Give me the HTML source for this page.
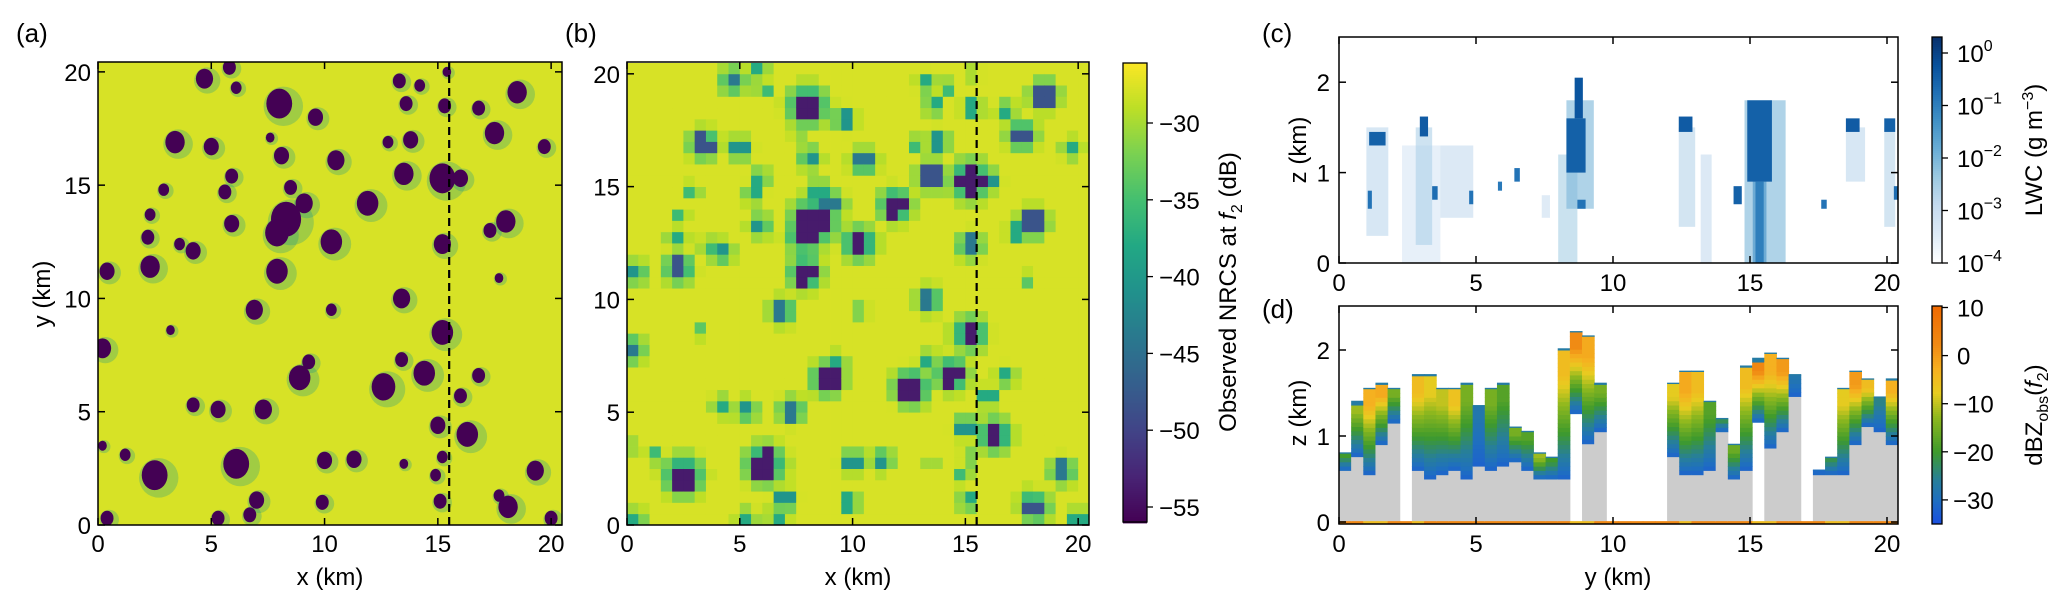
<!DOCTYPE html>
<html><head><meta charset="utf-8"><style>
html,body{margin:0;padding:0;background:#fff;}
svg{display:block;font-family:"Liberation Sans",Arial,sans-serif;}
</style></head><body>
<svg id="fig" width="2067" height="607" viewBox="0 0 2067 607" xmlns="http://www.w3.org/2000/svg">
<g id="pa"></g>
<g id="pb"></g>
<g id="pc"></g>
<g id="pd"></g>
<g id="labels"></g>
</svg>
<script>
// ---------- data: panel (a) cloud-shadow blobs (km) ----------
const blobX=[4.7,5.8,6.1,8.0,9.6,3.4,5.0,7.6,8.1,10.5,13.3,13.6,14.2,15.4,15.3,16.8,17.5,18.5,19.7,12.8,13.8,13.5,15.2,16.0,11.9,8.5,8.3,7.9,9.1,5.9,5.6,5.9,2.9,2.3,2.2,2.3,3.6,4.2,10.3,7.9,0.4,18.0,17.3,15.2,17.7,13.4,6.9,10.3,15.2,0.2,3.2,8.9,9.3,12.6,14.4,13.4,16.8,16.0,4.2,5.3,7.3,15.0,16.3,6.1,2.5,19.3,13.5,15.2,14.9,15.1,18.1,17.7,7.0,9.9,0.4,5.3,6.7,20.0,0.2,1.2,10.0,11.3];
const blobY=[19.7,20.2,19.3,18.6,18.0,16.9,16.7,17.1,16.3,16.1,19.6,18.6,19.4,20.0,18.5,18.4,17.3,19.1,16.7,16.9,17.0,15.5,15.3,15.3,14.2,14.9,13.5,12.9,14.2,15.4,14.7,13.3,14.8,13.7,12.7,11.4,12.4,12.1,12.5,11.2,11.2,13.4,13.0,12.4,10.9,10.0,9.5,9.5,8.5,7.8,8.6,6.5,7.2,6.1,6.7,7.3,6.6,5.7,5.3,5.1,5.1,4.4,4.0,2.7,2.2,2.4,2.7,3.0,2.2,1.05,0.8,1.3,1.1,1.0,0.3,0.3,0.45,0.3,3.5,3.1,2.85,2.9];
const blobR=[0.4,0.3,0.25,0.6,0.35,0.45,0.35,0.2,0.35,0.4,0.3,0.3,0.25,0.2,0.3,0.3,0.45,0.45,0.3,0.25,0.35,0.45,0.6,0.35,0.5,0.3,0.7,0.55,0.4,0.3,0.3,0.35,0.25,0.25,0.3,0.45,0.25,0.35,0.5,0.5,0.35,0.45,0.3,0.4,0.2,0.4,0.4,0.25,0.5,0.4,0.2,0.5,0.3,0.55,0.5,0.3,0.3,0.3,0.3,0.35,0.4,0.35,0.5,0.6,0.6,0.4,0.2,0.25,0.25,0.3,0.45,0.25,0.35,0.3,0.3,0.3,0.3,0.3,0.2,0.25,0.35,0.35];
const sectionX=15.5;
const xyTicks=[0,5,10,15,20];
const nrcsTicks=[-30,-35,-40,-45,-50,-55];
// ---------- data: panel (c) LWC patches ----------
const lightY0=[1.0,2.3,2.8,3.7,8.0,8.3,12.4,13.2,14.8,15.1,18.5,19.9,7.4];
const lightY1=[1.8,3.7,3.4,4.9,8.7,9.3,13.0,13.6,16.3,15.6,19.2,20.3,7.7];
const lightZ0=[0.3,0.0,0.2,0.5,0.0,0.6,0.4,0.0,0.0,0.0,0.9,0.4,0.5];
const lightZ1=[1.5,1.3,1.5,1.3,1.2,1.8,1.5,1.2,1.8,1.0,1.5,1.5,0.75];
const lightLog=[-2.8,-3.3,-2.6,-2.9,-2.5,-2.0,-2.7,-2.9,-2.0,-1.3,-2.8,-2.7,-3.0];
const coreY0=[1.1,1.05,2.95,3.4,4.75,6.4,5.8,8.3,8.6,8.7,12.4,14.4,14.9,15.2,17.6,18.5,19.9,20.25];
const coreY1=[1.7,1.2,3.25,3.6,4.9,6.6,5.95,9.0,8.9,9.0,12.9,14.7,15.8,15.5,17.8,19.0,20.3,20.4];
const coreZ0=[1.3,0.6,1.4,0.7,0.65,0.9,0.8,1.0,1.6,0.6,1.45,0.65,0.9,0.0,0.6,1.45,1.45,0.7];
const coreZ1=[1.45,0.8,1.62,0.85,0.8,1.05,0.9,1.6,2.05,0.7,1.62,0.85,1.8,0.9,0.7,1.6,1.6,0.85];
const coreLog=[-0.5,-0.8,-0.4,-0.7,-0.8,-0.8,-0.9,-0.5,-0.3,-0.8,-0.4,-0.5,-0.5,-1.0,-0.8,-0.4,-0.5,-0.7];
const lwcTickExp=[0,-1,-2,-3,-4];
// ---------- data: panel (d) radar columns ----------
const colGray=[.6,.76,.55,.9,1.15,0,.6,.5,.55,.6,.5,.65,.6,.65,.7,.6,.5,.5,.5,0,.91,1.05,0,0,0,0,0,.76,.55,.55,.6,1.05,.5,.6,0,.86,1.05,1.46,0,.55,.55,.55,.9,1.11,1.05,.9];
const colBase=[.6,.76,.55,.9,1.15,0,.6,.5,.55,.6,.5,.65,.6,.65,.7,.6,.5,.5,.5,1.26,.91,1.05,0,0,0,0,0,.76,.55,.55,.6,1.05,.5,.6,1.16,.86,1.05,1.46,0,.55,.55,.55,.9,1.11,1.05,.9];
const colTop=[.81,1.41,1.56,1.62,1.56,0,1.72,1.72,1.56,1.56,1.62,1.36,1.56,1.62,1.11,1.06,.81,.76,2.02,2.22,2.17,1.62,0,0,0,0,0,1.62,1.76,1.76,1.41,1.21,.91,1.82,1.91,1.97,1.91,1.72,0,.61,.76,1.56,1.76,1.67,1.46,1.67];
const colPeak=[-20,-12,-3,-2,-15,0,-5,-8,-10,-6,-15,-28,-15,-18,-15,-18,-12,-20,-5,2,-2,-15,0,0,0,0,0,-8,-2,-5,-18,-22,-16,-5,3,-3,0,-28,0,-30,-22,-8,0,-5,-25,-3];
const surfDbz=[3,3,-5,-5,3,3,-5,3,3,3,3,3,3,3,3,3,3,3,3,-5,-5,3,3,3,3,3,3,3,-5,3,3,3,3,3,-5,-5,3,3,3,3,-5,-5,3,3,3,3];
const zTicks=[0,1,2];
const dbzTicks=[10,0,-10,-20,-30];

// ---------- helpers ----------
const NS="http://www.w3.org/2000/svg";
function mk(tag,attrs,parent){const e=document.createElementNS(NS,tag);for(const k in attrs)e.setAttribute(k,attrs[k]);parent.appendChild(e);return e;}
function hex(c){return [parseInt(c.slice(1,3),16),parseInt(c.slice(3,5),16),parseInt(c.slice(5,7),16)];}
function interp(stops,t){t=Math.max(0,Math.min(1,t));for(let i=1;i<stops.length;i++){if(t<=stops[i][0]){const a=stops[i-1],b=stops[i];const f=(t-a[0])/(b[0]-a[0]||1);const ca=hex(a[1]),cb=hex(b[1]);return "rgb("+ca.map((v,j)=>Math.round(v+(cb[j]-v)*f)).join(",")+")";}}return stops[stops.length-1][1];}
const VIR=[[0,"#440154"],[.1,"#482475"],[.2,"#414487"],[.3,"#355f8d"],[.4,"#2a788e"],[.5,"#21918c"],[.6,"#22a884"],[.7,"#44bf70"],[.8,"#7ad151"],[.9,"#bddf26"],[1,"#fde725"]];
const BLU=[[0,"#ffffff"],[.125,"#deebf7"],[.25,"#c6dbef"],[.375,"#9ecae1"],[.5,"#6baed6"],[.625,"#4292c6"],[.75,"#2171b5"],[.875,"#08519c"],[1,"#08306b"]];
const DBZ=[[0,"#1a4fe0"],[.11,"#1f6fc0"],[.2,"#277f9a"],[.33,"#3e9a2c"],[.49,"#8fb81e"],[.6,"#e8cc20"],[.71,"#f5b020"],[.82,"#f08a14"],[1,"#f06a00"]];
const virC=v=>interp(VIR,(v+56)/30);
const bluC=l=>interp(BLU,(l+4)/4.3);
const dbzC=v=>interp(DBZ,(v+35)/45.3);
const FS=24;

function ticksBox(g,L,R,T,B,xs,ys,xf,yf,len){
  xs.forEach(v=>{const x=xf(v);
    const t1=mk("line",{x1:x,x2:x,y1:B,y2:B-len,stroke:"#000","stroke-width":1.5},g);
    
    
    mk("line",{x1:x,x2:x,y1:T,y2:T+len,stroke:"#000","stroke-width":1.5},g);});
  ys.forEach(v=>{const y=yf(v);
    const t2=mk("line",{x1:L,x2:L+len,y1:y,y2:y,stroke:"#000","stroke-width":1.5},g);
    
    
    mk("line",{x1:R,x2:R-len,y1:y,y2:y,stroke:"#000","stroke-width":1.5},g);});
  const fr=mk("rect",{x:L,y:T,width:R-L,height:B-T,fill:"none",stroke:"#000","stroke-width":1.5},g);
  
  
}
function txt(g,x,y,s,opt){const t=mk("text",Object.assign({x:x,y:y,"font-size":FS,fill:"#000"},opt||{}),g);t.textContent=s;return t;}

// ---------- panel a ----------
(function(){
  const g=document.getElementById("pa");
  const L=98,R=562,T=62,B=525,s=(R-L)/20.48;
  const xa=v=>L+v*s, ya=v=>B-v*s;
  const cpth=mk("clipPath",{id:"ca"},g);
  mk("rect",{x:L,y:T,width:R-L,height:B-T},cpth);
  const bg=mk("rect",{x:L,y:T,width:R-L,height:B-T,fill:virC(-27.8)},g);
  
  
  const cg=mk("g",{"clip-path":"url(#ca)"},g);
  blobX.forEach((bx,i)=>{
    const h=mk("circle",{cx:xa(bx)+blobR[i]*s*0.3,cy:ya(blobY[i])+blobR[i]*s*0.2,r:blobR[i]*1.45*s,fill:virC(-40),opacity:0.3},cg);
    
    
  });
  blobX.forEach((bx,i)=>{
    const c=mk("ellipse",{cx:xa(bx),cy:ya(blobY[i]),rx:blobR[i]*s*0.95,ry:blobR[i]*s*1.1,fill:virC(-56)},cg);
    
    
  });
  const dl=mk("line",{x1:xa(sectionX),x2:xa(sectionX),y1:T,y2:B,stroke:"#000","stroke-width":2.2,"stroke-dasharray":"8,5"},g);
  
  
  ticksBox(g,L,R,T,B,xyTicks,xyTicks,xa,ya,7);
  xyTicks.forEach(v=>{txt(g,xa(v),552,String(v),{"text-anchor":"middle"});txt(g,91,ya(v)+9,String(v),{"text-anchor":"end"});});
  const xl=txt(g,330,585,"x (km)",{"text-anchor":"middle"});
  
  
  const yl=txt(g,0,0,"y (km)",{"text-anchor":"middle",transform:"translate(50,294) rotate(-90)"});
  
  
})();

// ---------- panel b ----------
(function(){
  const g=document.getElementById("pb");
  const L=627,R=1089,T=62,B=525,s=(R-L)/20.48;
  const xb=v=>L+v*s, yb=v=>B-v*s;
  const cell=0.5, n=41;
  for(let i=0;i<n;i++)for(let j=0;j<n;j++){
    const cx=(i+0.5)*cell, cy=(j+0.5)*cell;let d=0;
    blobX.forEach((bx,k)=>{const dist=Math.hypot(bx-cx,blobY[k]-cy);const r=blobR[k];
      let v=dist<r?1:(dist<2.2*r?0.55*(2.2*r-dist)/(1.2*r):0);v*=Math.min(1,r/0.5);d=Math.max(d,v);});
    const val=-27.8-14*d-12*Math.pow(d,4);
    const w=Math.min(cell,20.48-i*cell), h=Math.min(cell,20.48-j*cell);
    if(w<=0||h<=0)continue;
    const r=mk("rect",{x:xb(i*cell),y:yb(j*cell+h),width:w*s+0.4,height:h*s+0.4,fill:virC(val)},g);
    
    
  }
  const dl=mk("line",{x1:xb(sectionX),x2:xb(sectionX),y1:T,y2:B,stroke:"#000","stroke-width":2.2,"stroke-dasharray":"8,5"},g);
  
  
  ticksBox(g,L,R,T,B,xyTicks,xyTicks,xb,yb,7);
  xyTicks.forEach(v=>{txt(g,xb(v),552,String(v),{"text-anchor":"middle"});txt(g,620,yb(v)+9,String(v),{"text-anchor":"end"});});
  const xl=txt(g,858,585,"x (km)",{"text-anchor":"middle"});
  
  
  const cL=1123,cR=1147,cT=63,cB=522;const bz=v=>123-(v+30)*15.36;
  for(let y=cT;y<cB;y+=2){const v=-30-(y+1-123)/15.36;mk("rect",{x:cL,y:y,width:cR-cL,height:2.4,fill:virC(v)},g);}
  const cb=mk("rect",{x:cL,y:cT,width:cR-cL,height:cB-cT,fill:"none",stroke:"#000","stroke-width":1.3},g);
  
  
  nrcsTicks.forEach(v=>{mk("line",{x1:cR,x2:cR+6,y1:bz(v),y2:bz(v),stroke:"#000","stroke-width":1.3},g);txt(g,1159,bz(v)+9,"\u2212"+Math.abs(v));});
  const t=mk("text",{x:0,y:0,"font-size":FS,"text-anchor":"middle",transform:"translate(1236,292) rotate(-90)"},g);
  
  
  t.innerHTML='Observed NRCS at <tspan font-style="italic">f</tspan><tspan font-size="16" dy="6">2</tspan><tspan dy="-6"> (dB)</tspan>';
})();

// ---------- panel c ----------
(function(){
  const g=document.getElementById("pc");
  const L=1339,R=1898,T=37,B=263;const kx=27.4,kz=90.4;
  const xc=v=>L+v*kx, zc=v=>B-v*kz;
  lightY0.forEach((y0,i)=>{const r=mk("rect",{x:xc(y0),y:zc(lightZ1[i]),width:(lightY1[i]-y0)*kx,height:(lightZ1[i]-lightZ0[i])*kz,fill:bluC(lightLog[i]),opacity:0.6},g);
    
    });
  coreY0.forEach((y0,i)=>{const r=mk("rect",{x:xc(y0),y:zc(coreZ1[i]),width:(coreY1[i]-y0)*kx,height:(coreZ1[i]-coreZ0[i])*kz,fill:bluC(coreLog[i])},g);
    
    });
  ticksBox(g,L,R,T,B,xyTicks,zTicks,xc,zc,7);
  xyTicks.forEach(v=>txt(g,xc(v),291,String(v),{"text-anchor":"middle"}));
  zTicks.forEach(v=>txt(g,1330,zc(v)+9,String(v),{"text-anchor":"end"}));
  const yl=txt(g,0,0,"z (km)",{"text-anchor":"middle",transform:"translate(1306,150) rotate(-90)"});
  
  
  const cL=1932,cR=1942;const cz=l=>263-(l+4)*52.5;
  for(let y=37;y<263;y+=2){const l=(263-y-1)/52.5-4;mk("rect",{x:cL,y:y,width:cR-cL,height:2.4,fill:bluC(l)},g);}
  const cb=mk("rect",{x:cL,y:37,width:cR-cL,height:226,fill:"none",stroke:"#000","stroke-width":1.3},g);
  
  
  lwcTickExp.forEach(e=>{mk("line",{x1:cR,x2:cR+6,y1:cz(e),y2:cz(e),stroke:"#000","stroke-width":1.3},g);
    const t=mk("text",{x:1957,y:cz(e)+9,"font-size":FS},g);
    t.innerHTML='10<tspan font-size="16" dy="-11">'+(e===0?'0':'\u2212'+Math.abs(e))+'</tspan>';});
  const t=mk("text",{x:0,y:0,"font-size":FS,"text-anchor":"middle",transform:"translate(2042,150) rotate(-90)"},g);
  
  
  t.innerHTML='LWC (g m<tspan font-size="16" dy="-9">\u22123</tspan><tspan dy="9">)</tspan>';
})();

// ---------- panel d ----------
(function(){
  const g=document.getElementById("pd");
  const L=1339,R=1898,T=306,B=524;const kx=27.4,kz=86;
  const xd=v=>L+v*kx, zd=v=>522-v*kz;
  const cw=20.4/colTop.length, row=0.05;
  colTop.forEach((top,i)=>{
    const x0=xd(i*cw), w=cw*kx+0.5;
    if(colGray[i]>0){const r=mk("rect",{x:x0,y:zd(colGray[i]),width:w,height:colGray[i]*kz,fill:"#cccccc"},g);
      
      }
    if(top>colBase[i]){
      const base=colBase[i], pk=colPeak[i];
      for(let z=base;z<top-1e-6;z+=row){
        const z1=Math.min(top,z+row);const f=((z+z1)/2-base)/(top-base);
        let v=(top-z1<1e-6&&top-base>0.12)?-27:-32+(pk+32)*Math.min(1,f/0.8);
        const r=mk("rect",{x:x0,y:zd(z1),width:w,height:(z1-z)*kz+0.5,fill:dbzC(v)},g);
        
        
      }
    }
    const s=mk("rect",{x:x0,y:zd(0.01),width:w,height:0.03*kz,fill:dbzC(surfDbz[i])},g);
    
    
  });
  ticksBox(g,L,R,T,B,xyTicks,zTicks,xd,zd,7);
  xyTicks.forEach(v=>txt(g,xd(v),552,String(v),{"text-anchor":"middle"}));
  zTicks.forEach(v=>txt(g,1330,zd(v)+9,String(v),{"text-anchor":"end"}));
  const yl=txt(g,0,0,"z (km)",{"text-anchor":"middle",transform:"translate(1306,413) rotate(-90)"});
  
  
  const xl=txt(g,1618,585,"y (km)",{"text-anchor":"middle"});
  
  
  const cL=1932,cR=1942;const dz=v=>307.5-(v-10)*4.81;
  for(let y=306;y<524;y+=2){const v=10-(y+1-307.5)/4.81;mk("rect",{x:cL,y:y,width:cR-cL,height:2.4,fill:dbzC(v)},g);}
  const cb=mk("rect",{x:cL,y:306,width:cR-cL,height:218,fill:"none",stroke:"#000","stroke-width":1.3},g);
  
  
  dbzTicks.forEach(v=>{mk("line",{x1:cR,x2:cR+6,y1:dz(v),y2:dz(v),stroke:"#000","stroke-width":1.3},g);
    txt(g,v<0?1953:1957,dz(v)+9,v<0?"\u2212"+Math.abs(v):String(v));});
  const t=mk("text",{x:0,y:0,"font-size":FS,"text-anchor":"middle",transform:"translate(2042,415) rotate(-90)"},g);
  
  
  t.innerHTML='dBZ<tspan font-size="16" dy="6">obs</tspan><tspan dy="-6">(</tspan><tspan font-style="italic">f</tspan><tspan font-size="16" dy="6">2</tspan><tspan dy="-6">)</tspan>';
})();

// ---------- panel letters ----------
(function(){
  const g=document.getElementById("labels");
  [["(a)",16,42],["(b)",565,42],["(c)",1262,42],["(d)",1262,318]].forEach(p=>{
    const t=txt(g,p[1],p[2],p[0],{"font-size":26});
    
    
  });
})();
</script>
</body></html>
